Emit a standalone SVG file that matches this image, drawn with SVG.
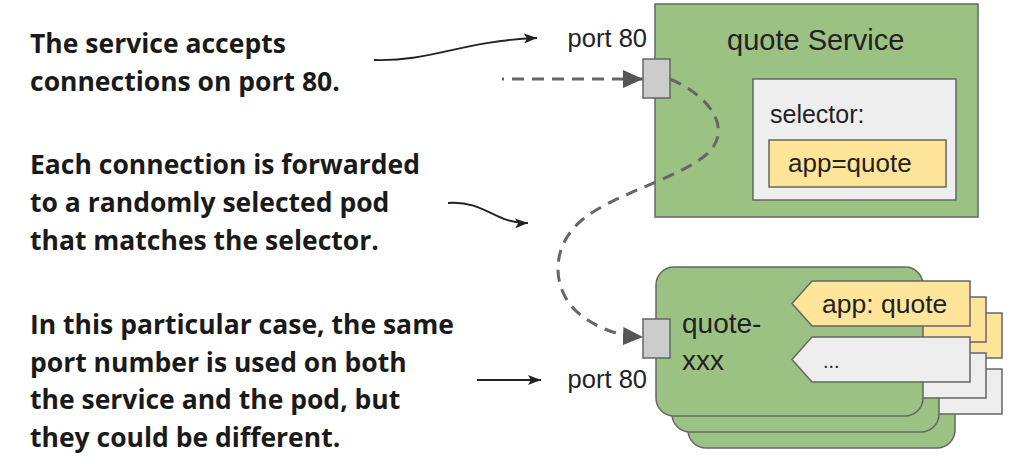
<svg xmlns="http://www.w3.org/2000/svg" width="1024" height="464" viewBox="0 0 1024 464">
<style>
  .note { font-family: "Open Sans", "Liberation Sans", sans-serif; font-weight: 700; font-size: 26.5px; fill: #1a1a1a; }
  .lbl { font-family: "Liberation Sans", Arial, sans-serif; fill: #222; }
  .green { fill: #9bc282; stroke: #666; stroke-width: 1.5; }
  .grey { fill: #eeeeee; stroke: #666; stroke-width: 1.5; }
  .yellow { fill: #ffe599; stroke: #666; stroke-width: 1.5; }
  .port { fill: #cccccc; stroke: #666; stroke-width: 1.5; }
  .dash { fill: none; stroke: #666; stroke-width: 3; stroke-dasharray: 12 8; }
  .thin { fill: none; stroke: #222; stroke-width: 1.8; }
</style>
<defs>
  <marker id="bigArrow" markerUnits="userSpaceOnUse" markerWidth="22" markerHeight="18" refX="20" refY="9" orient="auto">
    <path d="M0,0 L20,9 L0,18 Z" fill="#555"/>
  </marker>
  <marker id="smallArrow" markerUnits="userSpaceOnUse" markerWidth="14" markerHeight="10" refX="13" refY="5" orient="auto">
    <path d="M0,0 L13,5 L0,10 L3,5 Z" fill="#222"/>
  </marker>
</defs>

<g id="note-port">
  <text class="note" x="30" y="53">The service accepts</text>
  <text class="note" x="30" y="91">connections on port 80.</text>
</g>
<g id="note-forward">
  <text class="note" x="30" y="174">Each connection is forwarded</text>
  <text class="note" x="30" y="212">to a randomly selected pod</text>
  <text class="note" x="30" y="250">that matches the selector.</text>
</g>
<g id="note-same-port">
  <text class="note" x="30" y="334">In this particular case, the same</text>
  <text class="note" x="30" y="372">port number is used on both</text>
  <text class="note" x="30" y="409">the service and the pod, but</text>
  <text class="note" x="30" y="447">they could be different.</text>
</g>

<g id="service">
  <rect class="green" x="655" y="4" width="323" height="213"/>
  <text class="lbl" x="727" y="50" font-size="29">quote Service</text>
  <g id="selector">
    <rect class="grey" x="753" y="79" width="203" height="121"/>
    <text class="lbl" x="770" y="123" font-size="25">selector:</text>
    <rect class="yellow" x="769" y="140" width="177" height="47"/>
    <text class="lbl" x="788" y="172" font-size="26">app=quote</text>
  </g>
</g>

<g id="service-port">
  <rect class="port" x="643" y="59" width="27" height="39"/>
  <text class="lbl" x="647" y="47" font-size="25.5" text-anchor="end">port 80</text>
</g>

<g id="pod-3">
  <rect class="green" x="688" y="299" width="267" height="149" rx="18"/>
  <path class="yellow" d="M844,313 L1002,313 L1002,358 L844,358 L824,335.5 Z"/>
  <path class="grey" d="M844,369 L1002,369 L1002,414 L844,414 L824,391.5 Z"/>
</g>
<g id="pod-2">
  <rect class="green" x="672" y="283" width="267" height="149" rx="18"/>
  <path class="yellow" d="M828,297 L986,297 L986,342 L828,342 L808,319.5 Z"/>
  <path class="grey" d="M828,353 L986,353 L986,398 L828,398 L808,375.5 Z"/>
</g>
<g id="pod-1">
  <rect class="green" x="656" y="267" width="267" height="149" rx="18"/>
  <text class="lbl" x="682" y="333" font-size="28">quote-</text>
  <text class="lbl" x="682" y="370" font-size="28">xxx</text>
  <path class="yellow" d="M812,281 L970,281 L970,326 L812,326 L792,303.5 Z"/>
  <text class="lbl" x="822" y="313" font-size="26.5">app: quote</text>
  <path class="grey" d="M812,337 L970,337 L970,382 L812,382 L792,359.5 Z"/>
  <text class="lbl" x="823" y="368" font-size="20">...</text>
</g>

<g id="pod-port">
  <rect class="port" x="643" y="319" width="27" height="39"/>
  <text class="lbl" x="647" y="388" font-size="25.5" text-anchor="end">port 80</text>
</g>

<g id="connectors">
  <path class="thin" d="M374,60 C430,62 462,41 537,38" marker-end="url(#smallArrow)"/>
  <path class="thin" d="M448,203 C485,200 495,224 528,223" marker-end="url(#smallArrow)"/>
  <path class="thin" d="M477,380 L541,380" marker-end="url(#smallArrow)"/>
  <path class="dash" d="M502,79 L643,79" stroke-dashoffset="10" marker-end="url(#bigArrow)"/>
  <path class="dash" d="M670,79 C715,98 735,135 702,158 C672,180 612,195 582,220 C550,246 550,292 582,316 C602,331 622,336 643,337" marker-end="url(#bigArrow)"/>
</g>
</svg>
